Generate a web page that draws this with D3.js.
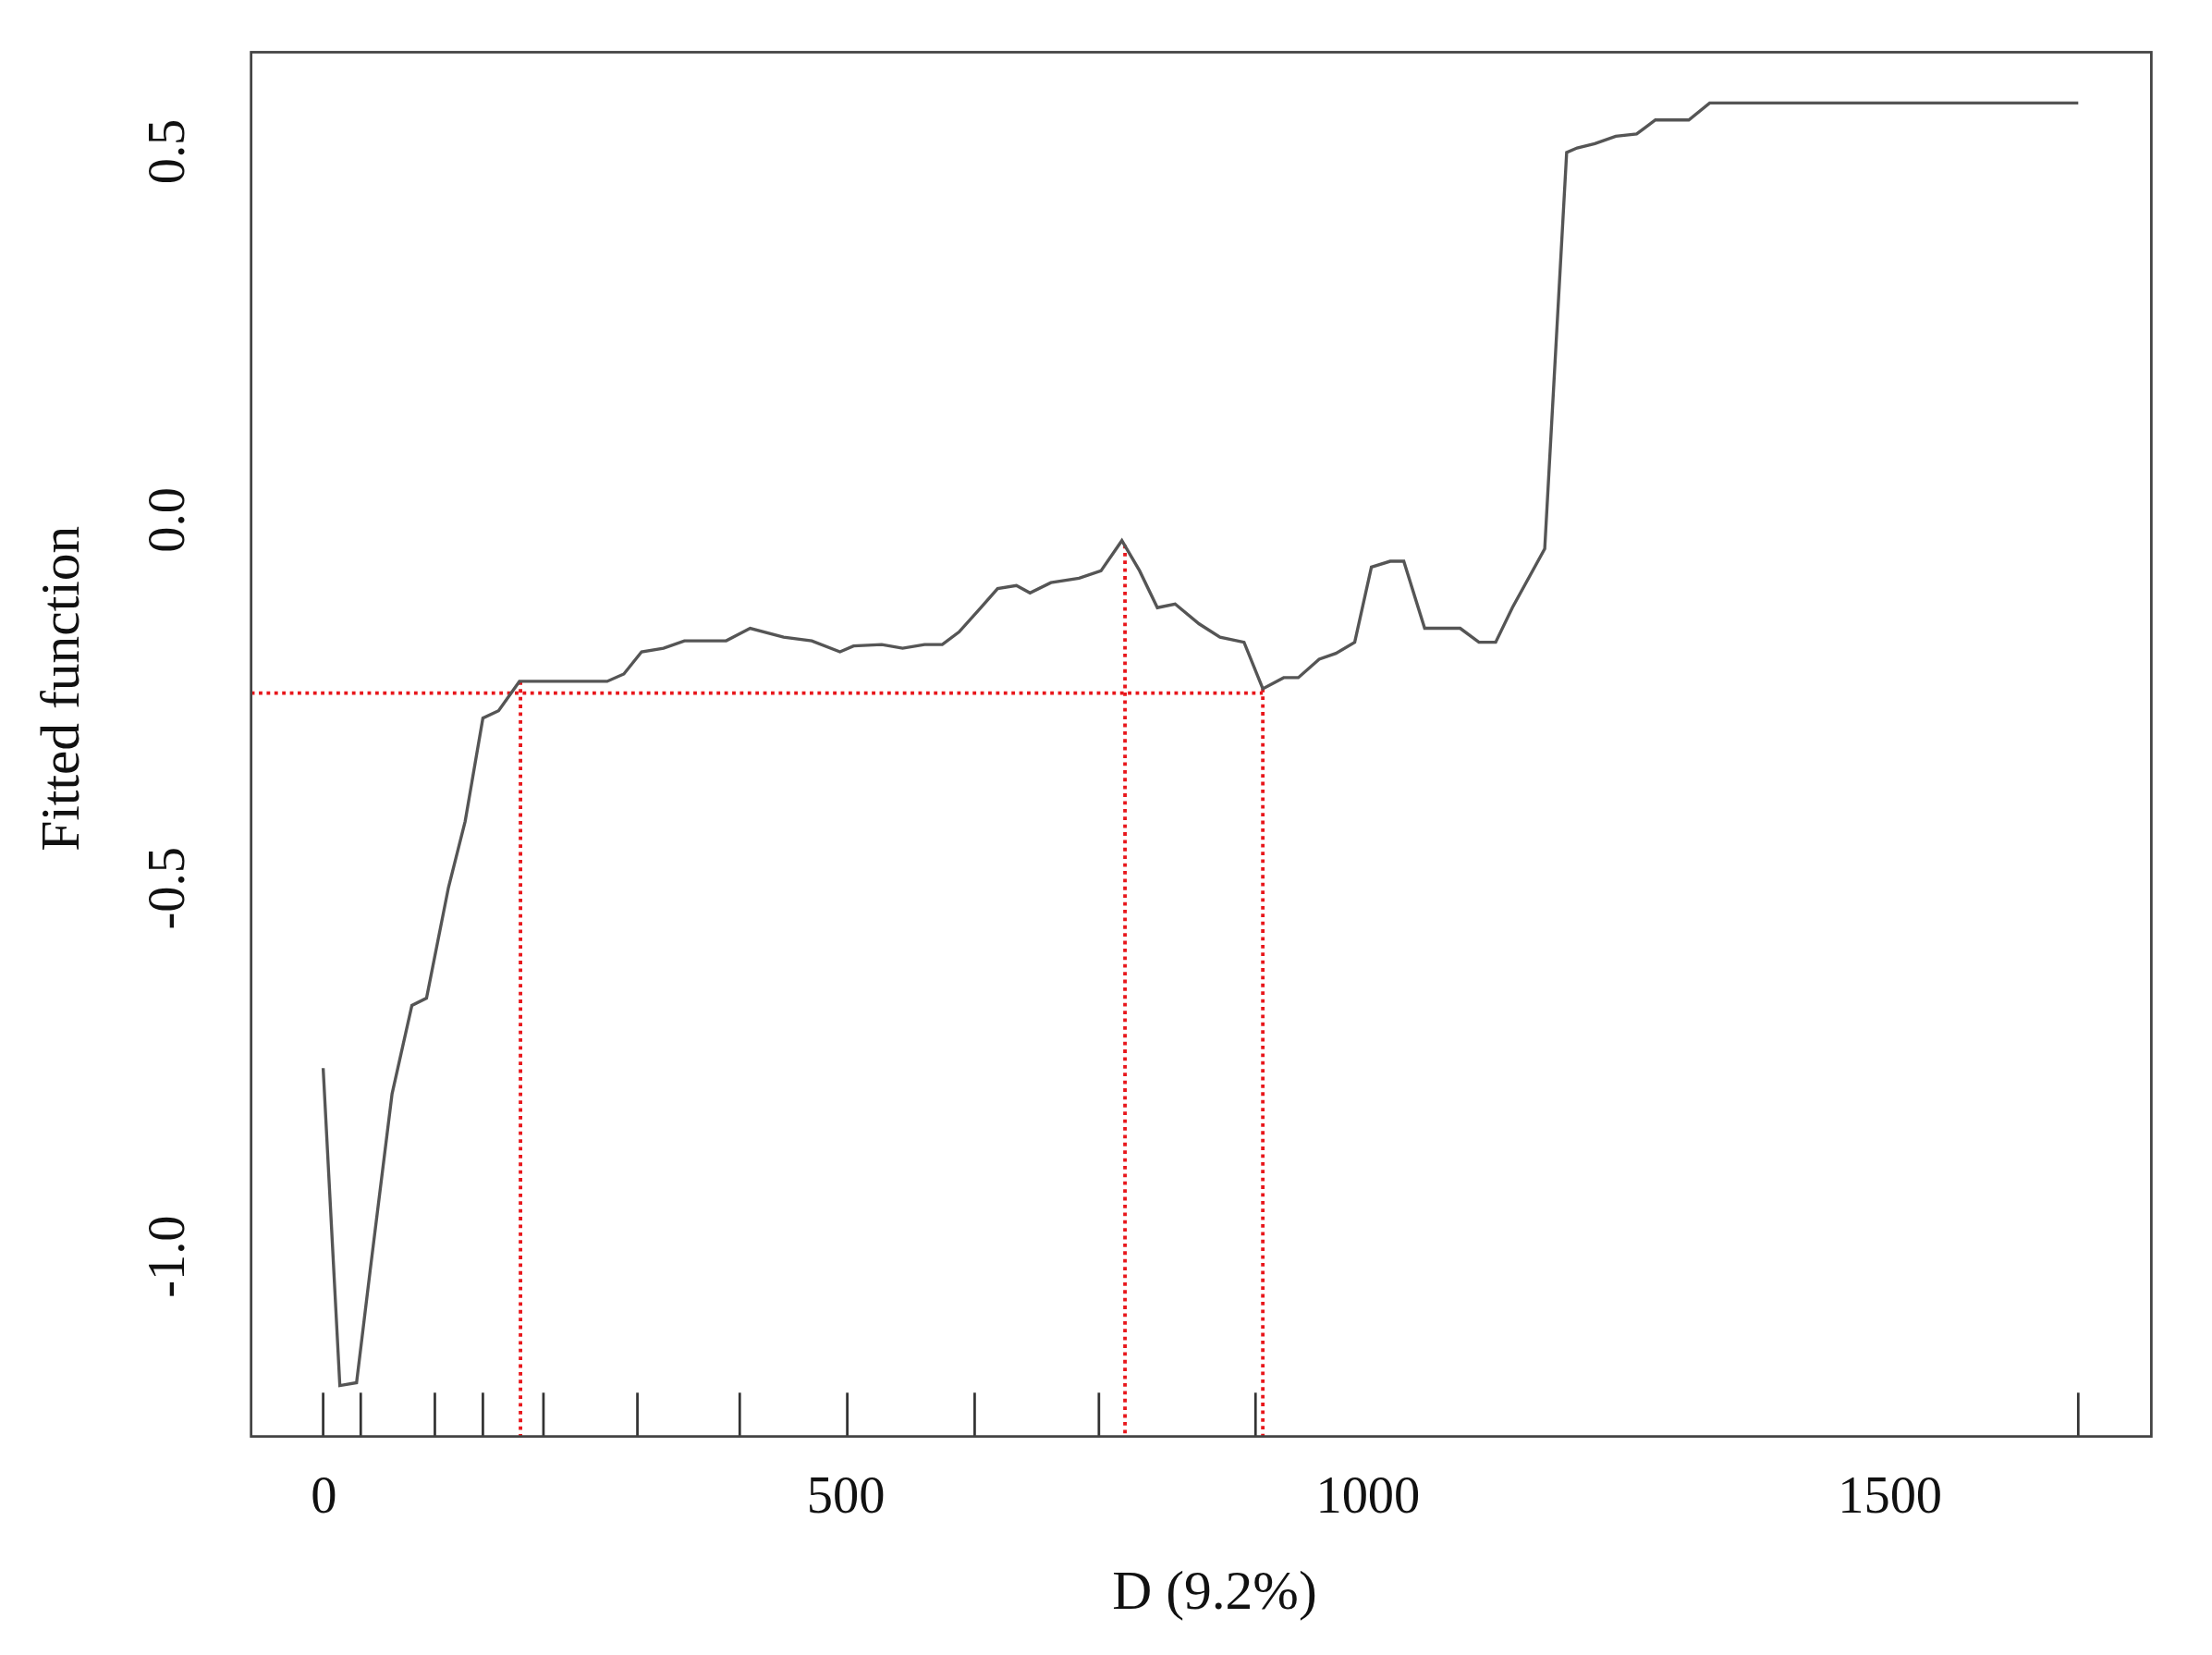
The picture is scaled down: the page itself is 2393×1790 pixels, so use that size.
<!DOCTYPE html>
<html lang="en">
<head>
<meta charset="utf-8">
<script src="https://cdn.jsdelivr.net/npm/d3@7"></script>
<style>
	body { margin: 0; background: #fff; }
	text { font-family: "Liberation Serif", "DejaVu Serif", serif; fill: #111; }
</style>
</head>
<body>
<script>
// fitted partial dependence curve
var curveX = [0,16,32,45,66,85,99,120,136,153,168,188,272,288,305,326,346,386,409,441,468,495,508,535,555,576,593,609,630,646,664,677,697,724,745,765,782,799,816,839,859,882,900,920,934,954,970,988,1004,1022,1035,1055,1089,1107,1123,1139,1170,1191,1201,1218,1238,1258,1276,1308,1328,1681];
var curveY = [-0.745,-1.176,-1.172,-1.02,-0.78,-0.66,-0.65,-0.50,-0.41,-0.27,-0.26,-0.22,-0.22,-0.21,-0.18,-0.175,-0.165,-0.165,-0.148,-0.16,-0.165,-0.18,-0.172,-0.17,-0.175,-0.17,-0.17,-0.153,-0.12,-0.094,-0.09,-0.10,-0.086,-0.08,-0.07,-0.029,-0.07,-0.12,-0.115,-0.142,-0.16,-0.167,-0.23,-0.215,-0.215,-0.19,-0.182,-0.167,-0.065,-0.057,-0.057,-0.148,-0.148,-0.167,-0.167,-0.12,-0.04,0.498,0.504,0.51,0.52,0.523,0.542,0.542,0.565,0.565];
// rug (deciles)
var rugX = [0,36,107,153,211,301,399,502,624,743,893,1681];
// red reference lines
var refY = -0.236;
var refX = [189, 768, 900];
var refTop = [-0.22, -0.035, -0.23];
var xTicks = [0, 500, 1000, 1500];
var yTicks = [0.5, 0.0, -0.5, -1.0];

var W = 1568, H = 1790 * W / 2393;
var svg = d3.select("body").append("svg")
	.attr("width", 2393).attr("height", 1790)
	.attr("viewBox", "0 0 " + W + " " + H);

var x = d3.scaleLinear().domain([-69, 1751]).range([178, 1525]);
var y = d3.scaleLinear().domain([0.634, -1.245]).range([37, 1018]);

// red dotted lines
svg.append("line").attr("x1", 178).attr("x2", x(900)).attr("y1", y(refY)).attr("y2", y(refY))
	.attr("stroke", "#e8161b").attr("stroke-width", 2.5).attr("stroke-dasharray", "2.5,3");
svg.selectAll(".vref").data(refX).enter().append("line")
	.attr("x1", d => x(d)).attr("x2", d => x(d))
	.attr("y1", (d, i) => y(refTop[i])).attr("y2", 1018)
	.attr("stroke", "#e8161b").attr("stroke-width", 2.5).attr("stroke-dasharray", "2.5,3");

// curve
var pts = curveX.map((d, i) => [d, curveY[i]]);
svg.append("path").datum(pts)
	.attr("d", d3.line().x(d => x(d[0])).y(d => y(d[1])))
	.attr("fill", "none").attr("stroke", "#555").attr("stroke-width", 2.2);

// rug
svg.selectAll(".rug").data(rugX).enter().append("line")
	.attr("x1", d => x(d)).attr("x2", d => x(d)).attr("y1", 987).attr("y2", 1018)
	.attr("stroke", "#333").attr("stroke-width", 1.8);

// box
svg.append("rect").attr("x", 178).attr("y", 37).attr("width", 1347).attr("height", 981)
	.attr("fill", "none").attr("stroke", "#444").attr("stroke-width", 1.8);

// x axis
var xa = svg.append("g").attr("transform", "translate(0,1018)")
	.call(d3.axisBottom(x).tickValues(xTicks).tickSize(0).tickPadding(28).tickFormat(d3.format("d")));
xa.select(".domain").remove();
xa.selectAll("text").attr("font-size", 37).style("font-family", "Liberation Serif").attr("fill", "#111");

// y axis, labels rotated, plain hyphen minus
var ya = svg.append("g").attr("transform", "translate(178,0)")
	.call(d3.axisLeft(y).tickValues(yTicks).tickSize(0).tickFormat(d => d.toFixed(1)));
ya.select(".domain").remove();
ya.selectAll("text").attr("font-size", 37).style("font-family", "Liberation Serif").attr("fill", "#111")
	.attr("x", null).attr("dy", null)
	.attr("transform", "translate(-56,0) rotate(-90)")
	.attr("text-anchor", "middle").attr("dominant-baseline", "middle");

svg.append("text").attr("x", 861).attr("y", 1140).attr("text-anchor", "middle")
	.attr("font-size", 39).text("D (9.2%)");
svg.append("text").attr("transform", "translate(56,488) rotate(-90)").attr("text-anchor", "middle")
	.attr("font-size", 39).text("Fitted function");
</script>
</body>
</html>
